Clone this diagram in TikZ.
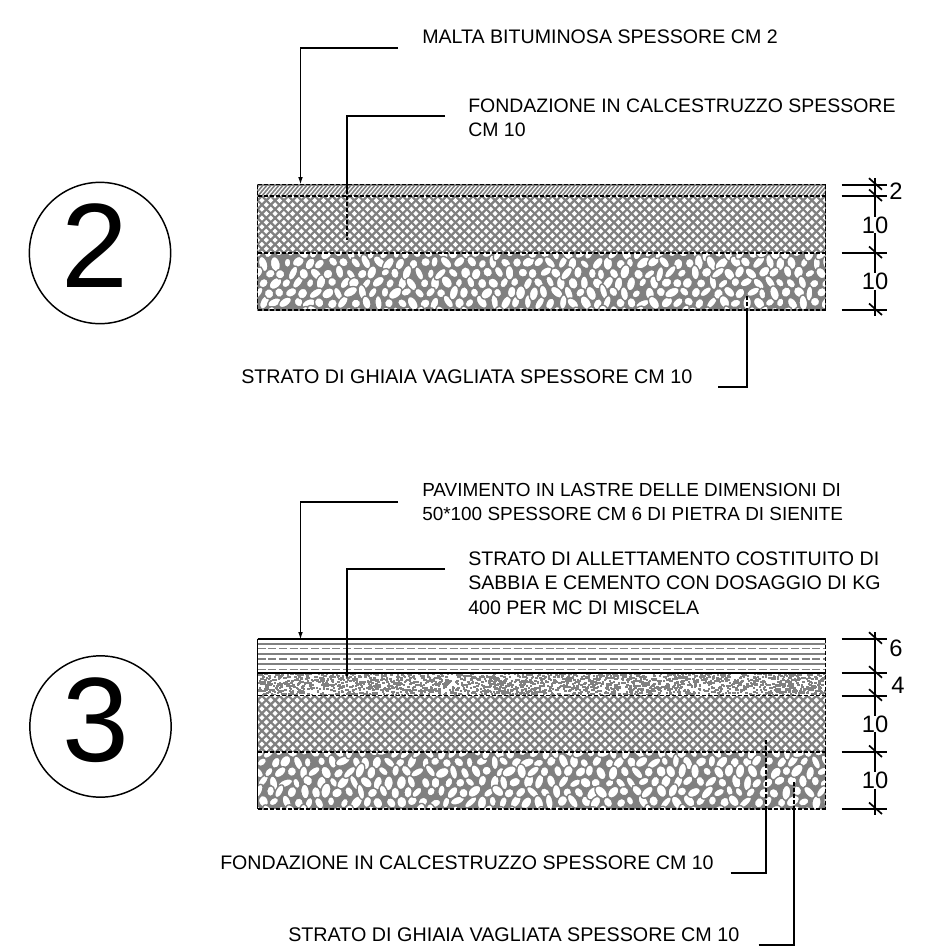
\documentclass[tikz,border=0pt]{standalone}
\usepackage{fontspec}
\setmainfont{Liberation Sans}
\usetikzlibrary{arrows.meta}
\definecolor{hg}{gray}{0.5}
\tikzset{
  x=0.75pt,y=-0.75pt,
  lead/.style={draw=black,line width=1.25pt},
  leaddash/.style={draw=black,line width=1.1pt,dash pattern=on 3pt off 1.5pt},
  leadarrow/.style={lead,-{Latex[length=6pt,width=3.5pt]}},
  label/.style={anchor=west,inner sep=0pt,font=\fontsize{14.7pt}{18.2pt}\selectfont,align=left},
  dimline/.style={draw=black,line width=1.25pt},
  dimnum/.style={inner sep=0pt,font=\fontsize{17.8pt}{20pt}\selectfont},
  bignum/.style={inner sep=0pt,font=\fontsize{90pt}{90pt}\selectfont},
  ring/.style={draw=black,line width=1.1pt,circle,minimum size=106pt,inner sep=0pt},
  layeredge/.style={draw=black,line width=1pt,dash pattern=on 3pt off 1.5pt},
}
\newcommand{\crossh}[4]{% x1 y1 x2 y2
  \begin{scope}
    \clip (#1,#2) rectangle (#3,#4);
    \fill[hg] (#1,#2) rectangle (#3,#4);
    \pgfmathsetmacro{\nrows}{int((#4-#2)/8.8)+1}
    \pgfmathsetmacro{\ncols}{int((#3-#1)/8.8)+1}
    \foreach \i in {0,...,\ncols}{\foreach \j in {0,...,\nrows}{
      \pgfmathsetmacro{\px}{#1+\i*8.8}\pgfmathsetmacro{\py}{#2+\j*8.8}
      \fill[white] (\px-2.6,\py) -- (\px,\py-2.6) -- (\px+2.6,\py) -- (\px,\py+2.6) -- cycle;
      \fill[white] (\px+4.4-2.6,\py+4.4) -- (\px+4.4,\py+4.4-2.6) -- (\px+4.4+2.6,\py+4.4) -- (\px+4.4,\py+4.4+2.6) -- cycle;
    }}
  \end{scope}}
\newcommand{\pebbles}[4]{%
  \begin{scope}
    \clip (#1,#2) rectangle (#3,#4);
    \fill[hg] (#1,#2) rectangle (#3,#4);
    \pgfmathsetmacro{\nrows}{int((#4-#2)/10)+1}
    \pgfmathsetmacro{\ncols}{int((#3-#1)/11.5)+1}
    \foreach \i in {0,...,\ncols}{\foreach \j in {0,...,\nrows}{
      \pgfmathsetmacro{\px}{#1+\i*11.5+mod(\j,2)*5.75+rand*1.6}
      \pgfmathsetmacro{\py}{#2+\j*10+rand*1.4}
      \pgfmathsetmacro{\ra}{4.6+rnd*3.4}
      \pgfmathsetmacro{\rb}{3.4+rnd*1.6}
      \pgfmathsetmacro{\rot}{20+rnd*120}
      \filldraw[fill=white,draw=hg,line width=1pt,rotate around={\rot:(\px,\py)}] (\px,\py) ellipse [x radius=\ra,y radius=\rb];
    }}
  \end{scope}}
\newcommand{\sand}[4]{%
  \begin{scope}
    \clip (#1,#2) rectangle (#3,#4);
    \fill[white] (#1,#2) rectangle (#3,#4);
    \foreach \k in {1,...,2200}{
      \pgfmathsetmacro{\px}{#1+rnd*(#3-#1)}
      \pgfmathsetmacro{\py}{#2+rnd*(#4-#2)}
      \fill[hg] (\px,\py) rectangle +(2.4,2);
    }
  \end{scope}}
\begin{document}
\begin{tikzpicture}
\pgfmathsetseed{7}
\useasboundingbox (0,0) rectangle (942,950);
\fill[white] (0,0) rectangle (942,950);
% ---- section 2
\begin{scope}
  \clip (257.5,184.7) rectangle (825.5,196);
  \fill[white] (257.5,184.7) rectangle (825.5,196);
  \foreach \i in {0,...,150}{\draw[hg,line width=1.2pt] (245+\i*4,197) -- +(11,-13);}
\end{scope}
\crossh{257.5}{196}{825.5}{253}
\pebbles{257.5}{253}{825.5}{310}
\draw[hg,line width=1.4pt] (257.5,184.7) rectangle (825.5,310);
\draw[layeredge] (257.5,184.7) -- (825.5,184.7);
\draw[layeredge] (257.5,196) -- (825.5,196);
\draw[layeredge] (257.5,253) -- (825.5,253);
\draw[layeredge] (257.5,310) -- (825.5,310);
\draw[layeredge] (257.5,184.7) -- (257.5,310);
\draw[layeredge] (825.5,184.7) -- (825.5,310);
% ---- section 3
\begin{scope}
  \clip (257.5,638.7) rectangle (825.5,672.7);
  \fill[white] (257.5,638.7) rectangle (825.5,672.7);
  \foreach \y in {644,654,664}{\draw[hg,line width=1.2pt] (257.5,\y) -- (825.5,\y);}
  \foreach \y in {648.5,659,669.5}{\draw[hg,line width=1.2pt,dash pattern=on 6pt off 2pt] (257.5,\y) -- (825.5,\y);}
\end{scope}
\sand{257.5}{672.7}{825.5}{695.7}
\crossh{257.5}{695.7}{825.5}{752}
\pebbles{257.5}{752}{825.5}{809}
\draw[black,line width=1.7pt] (257.5,638.7) -- (825.5,638.7);
\draw[black,line width=1.5pt] (257.5,672.7) -- (825.5,672.7);
\draw[layeredge] (257.5,695.7) -- (825.5,695.7);
\draw[layeredge] (257.5,752) -- (825.5,752);
\draw[layeredge] (257.5,809) -- (825.5,809);
\draw[black,line width=1.1pt] (257.5,638.7) -- (257.5,809);
\draw[layeredge] (825.5,638.7) -- (825.5,809);
% ---- circles
\node[ring] (c2) at (100,253) {};
\node[bignum] (n2) at (95,246) {2};
\node[ring] (c3) at (100.5,726.5) {};
\node[bignum] (n3) at (96,720.5) {3};
% ---- labels
\node[label] (t1) at (422,37) {MALTA BITUMINOSA SPESSORE CM 2};
\node[label,font=\fontsize{14.6pt}{18.2pt}\selectfont] (t2) at (468,118) {FONDAZIONE IN CALCESTRUZZO SPESSORE\\CM 10};
\node[label,font=\fontsize{14.8pt}{18.2pt}\selectfont] (t3) at (241,377) {STRATO DI GHIAIA VAGLIATA SPESSORE CM 10};
\node[label,font=\fontsize{14.2pt}{18.2pt}\selectfont] (t4) at (422,502) {PAVIMENTO IN LASTRE DELLE DIMENSIONI DI\\50*100 SPESSORE CM 6 DI PIETRA DI SIENITE};
\node[label] (t5) at (468,583) {STRATO DI ALLETTAMENTO COSTITUITO DI\\SABBIA E CEMENTO CON DOSAGGIO DI KG\\400 PER MC DI MISCELA};
\node[label] (t6) at (220,863) {FONDAZIONE IN CALCESTRUZZO SPESSORE CM 10};
\node[label,font=\fontsize{14.8pt}{18.2pt}\selectfont] (t7) at (288,935) {STRATO DI GHIAIA VAGLIATA SPESSORE CM 10};
% ---- leaders
\coordinate (a1) at (300.5,185);
\coordinate (a2) at (347,240);
\coordinate (a3) at (747,295);
\coordinate (a4) at (300.5,640);
\coordinate (a5) at (347,680);
\coordinate (a6) at (766,738);
\coordinate (a7) at (794,780);
\draw[leadarrow] (398,48.3) -- (300.5,48.3) -- (a1);
\draw[lead] (445,116) -- (347,116) -- (347,190);
\draw[leaddash] (347,190) -- (a2);
\draw[lead] (718,387) -- (747,387) -- (747,312);
\draw[leaddash] (747,312) -- (a3);
\draw[leadarrow] (398,502) -- (300.5,502) -- (a4);
\draw[leadarrow] (445,569) -- (347,569) -- (a5);
\draw[lead] (730.7,872.7) -- (766,872.7) -- (766,810);
\draw[leaddash] (766,810) -- (a6);
\draw[lead] (758.7,945) -- (794,945) -- (794,810);
\draw[leaddash] (794,810) -- (a7);
% ---- dimensions
\foreach \y in {184.7,196,253,310}{
  \draw[dimline] (841.7,\y) -- (886.7,\y);
  \draw[dimline] (869,\y-6.5) -- (882,\y+5);
}
\draw[dimline] (875,178) -- (875,316);
\node[dimnum,fill=white,inner xsep=1pt] (d1) at (875,225) {10};
\node[dimnum,fill=white,inner xsep=1pt] (d2) at (875,281.7) {10};
\node[dimnum,anchor=center] (d0) at (896,191.7) {2};
\foreach \y in {638.7,672.7,695.7,752,809}{
  \draw[dimline] (841.7,\y) -- (886.7,\y);
  \draw[dimline] (869,\y-6.5) -- (882,\y+5);
}
\draw[dimline] (875,632) -- (875,815);
\node[dimnum,fill=white,inner xsep=1pt] (d3) at (875,724) {10};
\node[dimnum,fill=white,inner xsep=1pt] (d4) at (875,780.7) {10};
\node[dimnum] (d5) at (896,648) {6};
\node[dimnum] (d6) at (898,685.7) {4};
\end{tikzpicture}
\end{document}
